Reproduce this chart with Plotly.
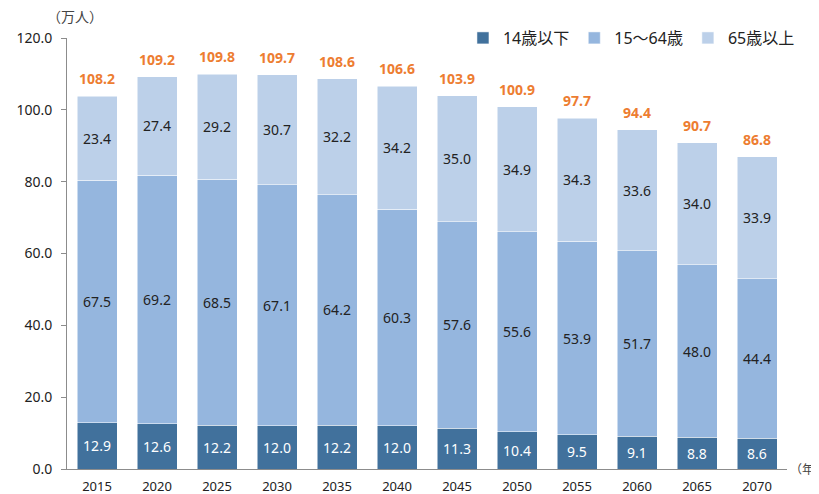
import plotly.graph_objects as go

# data
years = ['2015', '2020', '2025', '2030', '2035', '2040', '2045', '2050', '2055', '2060', '2065', '2070']
under14 = [12.9, 12.6, 12.2, 12.0, 12.2, 12.0, 11.3, 10.4, 9.5, 9.1, 8.8, 8.6]
age15_64 = [67.5, 69.2, 68.5, 67.1, 64.2, 60.3, 57.6, 55.6, 53.9, 51.7, 48.0, 44.4]
over65 = [23.4, 27.4, 29.2, 30.7, 32.2, 34.2, 35.0, 34.9, 34.3, 33.6, 34.0, 33.9]
totals = [108.2, 109.2, 109.8, 109.7, 108.6, 106.6, 103.9, 100.9, 97.7, 94.4, 90.7, 86.8]

FONT = 'Noto Sans, Noto Sans CJK JP'

fig = go.Figure()

series = [
    ('14歳以下', under14, '#41719C', 'white'),
    ('15〜64歳', age15_64, '#95B6DE', '#222222'),
    ('65歳以上', over65, '#BCD0E9', '#222222'),
]
for name, vals, color, tcolor in series:
    fig.add_trace(go.Bar(
        x=years, y=vals, name=name,
        marker=dict(color=color, line=dict(color='white', width=0.5)),
        text=[f'{v:.1f}' for v in vals],
        textposition='inside', insidetextanchor='middle',
        textfont=dict(color=tcolor, size=14, family=FONT),
        textangle=0,
    ))

# orange total labels above each stacked bar
# (category index for x: numeric-looking strings are read as indices on category axes)
for i, yr in enumerate(years):
    top = under14[i] + age15_64[i] + over65[i]
    fig.add_annotation(x=i, y=top, text=f'<b>{totals[i]:.1f}</b>', showarrow=False,
                       yanchor='bottom', yshift=6,
                       font=dict(color='#ED7D31', size=14, family=FONT))

fig.add_annotation(xref='paper', yref='paper', x=0.011, y=1.05, text='（万人）',
                   showarrow=False, xanchor='center', yanchor='middle',
                   font=dict(size=14, color='#444444', family=FONT))
fig.add_annotation(xref='paper', yref='paper', x=1.0, y=0.0, text='（年）',
                   showarrow=False, xanchor='left', yanchor='middle', xshift=1,
                   font=dict(size=12, color='#444444', family=FONT))

# the page body has an 8px default margin, so the plot area is placed to allow for it
fig.update_layout(
    barmode='stack', bargap=1/3,
    width=819, height=486,
    margin=dict(l=59, r=40, t=30, b=25),
    plot_bgcolor='white', paper_bgcolor='white',
    font=dict(family=FONT, color='#222222'),
    uniformtext=dict(minsize=8, mode='show'),
    legend=dict(orientation='h', x=1.018, xanchor='right', y=1.0, yanchor='middle',
                font=dict(size=16, color='#222222'), traceorder='normal',
                itemwidth=30, bgcolor='rgba(0,0,0,0)'),
    xaxis=dict(type='category', range=[-0.5, 11.5], showline=True, linecolor='#8C8C8C',
               linewidth=1, ticks='', ticklabelstandoff=5, automargin=False,
               tickfont=dict(size=13, color='#222222')),
    yaxis=dict(range=[0, 120], dtick=20, tickformat='.1f', showgrid=False,
               showline=True, linecolor='#8C8C8C', linewidth=1, automargin=False,
               ticks='outside', ticklen=5, tickcolor='#8C8C8C', ticklabelstandoff=6,
               tickfont=dict(size=14, color='#222222'), zeroline=False),
)

fig.write_html('out.html')
